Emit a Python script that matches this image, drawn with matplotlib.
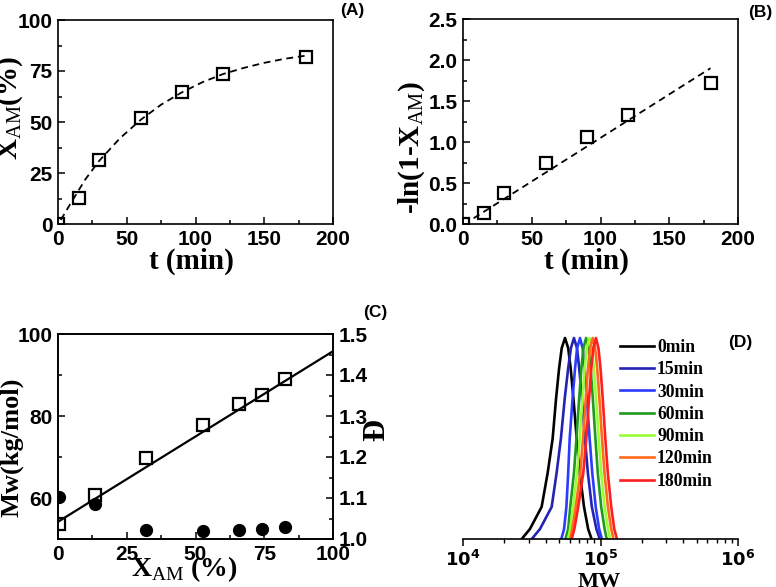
import numpy as np
import matplotlib
matplotlib.use('Agg')
import matplotlib.pyplot as plt
from matplotlib.ticker import MultipleLocator, LogLocator, NullFormatter

plt.rcParams['mathtext.fontset'] = 'custom'
plt.rcParams['mathtext.rm'] = 'Liberation Serif'
plt.rcParams['mathtext.bf'] = 'Liberation Serif:bold'

# (A) conversao x tempo
t_min = [0, 15, 30, 60, 90, 120, 180]
conv = [0, 12.6, 31.4, 52.1, 64.9, 73.5, 82.0]
fit_a_t = [2, 10, 20, 30, 45, 60, 75, 90, 105, 120, 135, 150, 165, 180]
fit_a_x = [2, 11, 22, 31, 42, 51, 58.5, 64.5, 69.5, 73.5, 76.5, 79, 81, 82.5]

# (B) -ln(1-X) x tempo
lnx = [0, 0.134, 0.378, 0.744, 1.057, 1.333, 1.72]
fit_b_t = [7.7, 180]
fit_b_y = [0.07, 1.9]

# (C) Mw e dispersidade x conversao
conv_c = [0.4, 13.3, 32.1, 52.7, 65.8, 74.3, 82.7]
mw = [53.7, 60.7, 69.7, 77.8, 83.0, 85.2, 89.1]
disp = [1.103, 1.085, 1.022, 1.020, 1.022, 1.024, 1.030]
fit_c_x = [0, 100]
fit_c_y = [54.2, 95.8]

# (D) curvas GPC: posicoes log10(MW) lidas em cada altura normalizada
niveis = [0, 0.05, 0.16, 0.33, 0.5, 0.7, 0.85, 0.95]
rotulos = ['0min', '15min', '30min', '60min', '90min', '120min', '180min']
cores = ['#000000', '#2323b4', '#2b3cff', '#1f9a1f', '#99ff33', '#ff6a1a', '#ff1f1f']
pico = [4.742, 4.807, 4.851, 4.895, 4.919, 4.943, 4.967]
esq = [
    [4.427, 4.487, 4.572, 4.616, 4.652, 4.677, 4.699, 4.718],
    [4.500, 4.560, 4.645, 4.681, 4.712, 4.740, 4.765, 4.785],
    [4.715, 4.735, 4.752, 4.765, 4.776, 4.797, 4.815, 4.830],
    [4.745, 4.765, 4.780, 4.807, 4.825, 4.845, 4.861, 4.876],
    [4.765, 4.780, 4.800, 4.830, 4.849, 4.869, 4.885, 4.900],
    [4.780, 4.795, 4.820, 4.853, 4.873, 4.893, 4.909, 4.924],
    [4.790, 4.810, 4.838, 4.875, 4.897, 4.917, 4.933, 4.948],
]
dir_ = [
    [4.935, 4.910, 4.880, 4.849, 4.827, 4.803, 4.783, 4.765],
    [4.995, 4.970, 4.937, 4.908, 4.887, 4.865, 4.845, 4.829],
    [5.010, 4.990, 4.965, 4.940, 4.921, 4.900, 4.885, 4.870],
    [5.045, 5.030, 5.005, 4.980, 4.963, 4.944, 4.928, 4.913],
    [5.070, 5.055, 5.030, 5.005, 4.987, 4.968, 4.952, 4.937],
    [5.095, 5.078, 5.054, 5.029, 5.011, 4.992, 4.976, 4.961],
    [5.120, 5.100, 5.078, 5.053, 5.035, 5.016, 5.000, 4.985],
]

serif = 'Liberation Serif'
sans = 'Liberation Sans'
W, H = 776, 587

fig = plt.figure(figsize=(7.76, 5.87), dpi=100)


def caixa(x0, y0, x1, y1):
    return [x0 / W, 1 - y1 / H, (x1 - x0) / W, (y1 - y0) / H]


def estilo(ax, right=False):
    for s in ax.spines.values():
        s.set_linewidth(1.2)
    ax.tick_params(which='both', direction='in', top=False, right=right,
                   labelsize=15, width=1.1, pad=4)
    ax.tick_params(which='major', length=5)
    ax.tick_params(which='minor', length=3)
    for lb in ax.get_xticklabels() + ax.get_yticklabels():
        lb.set_fontfamily(sans)
        lb.set_fontweight('bold')


quad = dict(marker='s', markersize=8, markerfacecolor='none', markeredgecolor='black',
            markeredgewidth=1.6, linestyle='none')

# ---------------- (A)
axA = fig.add_axes(caixa(58, 20, 333, 224))
axA.plot(fit_a_t, fit_a_x, color='black', lw=1.3, linestyle=(0, (3.8, 2.6)))
axA.plot(t_min, conv, **quad)
axA.set_xlim(0, 200)
axA.set_ylim(0, 100)
axA.xaxis.set_major_locator(MultipleLocator(50))
axA.xaxis.set_minor_locator(MultipleLocator(25))
axA.yaxis.set_major_locator(MultipleLocator(25))
axA.yaxis.set_minor_locator(MultipleLocator(12.5))
estilo(axA)
axA.set_xlabel('t (min)', fontfamily=serif, fontweight='bold', fontsize=21)
axA.xaxis.set_label_coords(0.487, -0.115)
axA.set_ylabel('X$_{\\mathrm{AM}}$(%)', fontfamily=serif, fontweight='bold', fontsize=21)
axA.yaxis.set_label_coords(-0.12, 0.57)
fig.text(352 / W, 1 - 11 / H, '(A)', fontfamily=sans, fontweight='bold', fontsize=12.5,
         ha='center', va='center')

# ---------------- (B)
axB = fig.add_axes(caixa(463, 19, 738, 224))
axB.plot(fit_b_t, fit_b_y, color='black', lw=1.3, linestyle=(0, (3.8, 2.6)))
axB.plot(t_min, lnx, **quad)
axB.set_xlim(0, 200)
axB.set_ylim(0, 2.5)
axB.xaxis.set_major_locator(MultipleLocator(50))
axB.xaxis.set_minor_locator(MultipleLocator(25))
axB.yaxis.set_major_locator(MultipleLocator(0.5))
axB.yaxis.set_minor_locator(MultipleLocator(0.25))
estilo(axB)
axB.set_xlabel('t (min)', fontfamily=serif, fontweight='bold', fontsize=21)
axB.xaxis.set_label_coords(0.45, -0.115)
axB.set_ylabel('-ln(1-X$_{\\mathrm{AM}}$)', fontfamily=serif, fontweight='bold', fontsize=21)
axB.yaxis.set_label_coords(-0.131, 0.375)
fig.text(760 / W, 1 - 13 / H, '(B)', fontfamily=sans, fontweight='bold', fontsize=12.5,
         ha='center', va='center')

# ---------------- (C)
axC = fig.add_axes(caixa(58, 334, 333, 539))
axC.plot(fit_c_x, fit_c_y, color='black', lw=1.6)
axC.plot(conv_c, mw, **quad)
axC.set_xlim(0, 100)
axC.set_ylim(50, 100)
axC.xaxis.set_major_locator(MultipleLocator(25))
axC.xaxis.set_minor_locator(MultipleLocator(12.5))
axC.yaxis.set_major_locator(MultipleLocator(20))
axC.yaxis.set_minor_locator(MultipleLocator(10))
estilo(axC)
axC.set_yticks([60, 80, 100])
axC.set_ylabel('Mw(kg/mol)', fontfamily=serif, fontweight='bold', fontsize=19)
axC.yaxis.set_label_coords(-0.127, 0.449)
axC.set_xlabel('X$_{\\mathrm{AM}}$ (%)', fontfamily=serif, fontweight='bold', fontsize=20)
axC.xaxis.set_label_coords(0.46, -0.075)
for lb in axC.get_yticklabels():
    lb.set_fontfamily(sans)
    lb.set_fontweight('bold')

axC2 = axC.twinx()
axC2.plot(conv_c, disp, marker='o', markersize=8.5, color='black', linestyle='none')
axC2.set_ylim(1.0, 1.5)
axC2.yaxis.set_major_locator(MultipleLocator(0.1))
axC2.yaxis.set_minor_locator(MultipleLocator(0.05))
estilo(axC2, right=True)
axC2.tick_params(which='both', left=False)
axC2.set_ylabel('Đ', fontfamily=serif, fontweight='bold', fontsize=22)
axC2.yaxis.set_label_coords(1.105, 0.53)
fig.text(375 / W, 1 - 313 / H, '(C)', fontfamily=sans, fontweight='bold', fontsize=12.5,
         ha='center', va='center')

# ---------------- (D)
axD = fig.add_axes(caixa(463, 334, 738, 539))
for k in range(len(rotulos)):
    xs = esq[k] + [pico[k]] + dir_[k][::-1]
    ys = niveis + [1] + niveis[::-1]
    axD.plot(10 ** np.array(xs), ys, color=cores[k], lw=1.9, label=rotulos[k],
             solid_joinstyle='round')
axD.set_xscale('log')
axD.set_xlim(1e4, 1e6)
axD.set_ylim(0, 1.02)
for s in ['left', 'right', 'top']:
    axD.spines[s].set_visible(False)
axD.spines['bottom'].set_linewidth(1.2)
axD.set_yticks([])
axD.xaxis.set_minor_locator(LogLocator(base=10, subs=np.arange(2, 10), numticks=20))
axD.xaxis.set_minor_formatter(NullFormatter())
axD.set_xticks([1e4, 1e5, 1e6])
axD.set_xticklabels(['$\\mathbf{10^{4}}$', '$\\mathbf{10^{5}}$', '$\\mathbf{10^{6}}$'])
for lb in axD.get_xticklabels():
    lb.set_math_fontfamily('dejavusans')
    lb.set_fontsize(13)
axD.tick_params(which='major', direction='out', length=5, width=1.1, pad=3)
axD.tick_params(which='minor', direction='out', length=3, width=1.0)
axD.set_xlabel('MW', fontfamily=serif, fontweight='bold', fontsize=16)
axD.xaxis.set_label_coords(0.497, -0.16)
axD.legend(loc='upper left', bbox_to_anchor=(620 / W, 1 - 339 / H),
           bbox_transform=fig.transFigure, frameon=False, borderpad=0,
           handlelength=1.95, handletextpad=0.15, labelspacing=0.3, borderaxespad=0,
           prop={'family': serif, 'weight': 'bold', 'size': 12.7})
fig.text(740 / W, 1 - 343 / H, '(D)', fontfamily=sans, fontweight='bold', fontsize=12.5,
         ha='center', va='center')

fig.savefig('out.png', dpi=100)
